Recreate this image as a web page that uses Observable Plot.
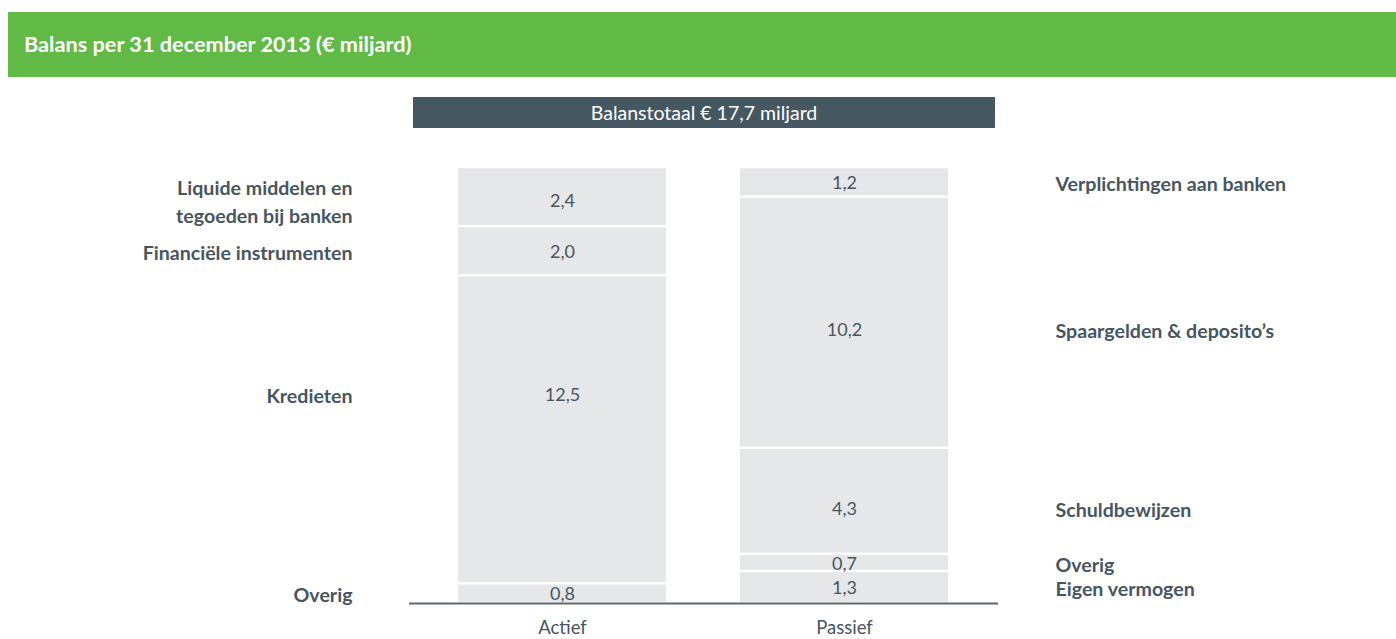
<!DOCTYPE html>
<html>
<head>
<meta charset="utf-8">
<script src="https://cdn.jsdelivr.net/npm/d3@7"></script>
<script src="https://cdn.jsdelivr.net/npm/@observablehq/plot@0.6"></script>
<style>
  html, body { margin: 0; padding: 0; background: #fff; }
  body { width: 1396px; height: 639px; position: relative; overflow: hidden; font-family: Lato, "Open Sans", sans-serif; }
  #header { position: absolute; left: 8px; top: 12px; width: 1388px; height: 65px; background: #62ba46; }
  #header span { position: absolute; left: 16px; top: 0; line-height: 65px; color: #fff; font-weight: 700; font-size: 21.7px; }
  #banner { position: absolute; left: 413px; top: 97px; width: 582px; height: 31px; background: #455761; color: #fff; font-size: 19.5px; text-align: center; line-height: 31px; }
  #chart { position: absolute; left: 0; top: 130px; }
</style>
</head>
<body>
<div id="header"><span id="title"></span></div>
<div id="banner"></div>
<div id="chart"></div>
<script>
// ---- data ----
const title = "Balans per 31 december 2013 (€ miljard)";
const sides = ["Actief", "Passief"];
const actiefLabels = ["Liquide middelen en\ntegoeden bij banken", "Financiële instrumenten", "Kredieten", "Overig"];
const actiefValues = [2.4, 2.0, 12.5, 0.8];
const passiefLabels = ["Verplichtingen aan banken", "Spaargelden & deposito’s", "Schuldbewijzen", "Overig", "Eigen vermogen"];
const passiefValues = [1.2, 10.2, 4.3, 0.7, 1.3];
const balanceTotal = 17.7;

// ---- layout (pixel nudges for label placement, not data) ----
const nudge = {
  "Liquide middelen en\ntegoeden bij banken": 3,
  "Kredieten": -36,
  "Spaargelden & deposito’s": 7,
  "Schuldbewijzen": 7
};

const fmt = v => v.toFixed(1).replace(".", ",");

document.getElementById("title").textContent = title;
document.getElementById("banner").textContent = "Balanstotaal € " + fmt(balanceTotal) + " miljard";

function stackSide(side, labels, values) {
  let top = balanceTotal;
  return labels.map((label, i) => {
    const y2 = top, y1 = top - values[i];
    top = y1;
    return {side, label, value: values[i], y1, y2, mid: (y1 + y2) / 2, nudge: nudge[label] || 0};
  });
}
const segs = [
  ...stackSide(sides[0], actiefLabels, actiefValues),
  ...stackSide(sides[1], passiefLabels, passiefValues)
];

const textColor = "#46565f";
const nudges = [...new Set(segs.map(d => d.nudge))];

const marks = [
  Plot.barY(segs, {x: "side", y1: "y1", y2: "y2", fill: "#e6e7e9", insetTop: 1.2, insetBottom: 1.2}),
  Plot.ruleY([0], {stroke: "#5b6b73", strokeWidth: 2})
];
for (const n of nudges) {
  const sub = segs.filter(d => d.nudge === n);
  marks.push(Plot.text(sub, {x: "side", y: "mid", text: d => fmt(d.value), dy: n + 1, fill: textColor, fontSize: 18, fontWeight: 400}));
  marks.push(Plot.text(sub.filter(d => d.side === sides[0]), {x: "side", y: "mid", text: "label", dy: n, dx: -210, textAnchor: "end", fill: textColor, fontSize: 19.6, fontWeight: 700, lineHeight: 1.4}));
  marks.push(Plot.text(sub.filter(d => d.side === sides[1]), {x: "side", y: "mid", text: "label", dy: n, dx: 211, textAnchor: "start", fill: textColor, fontSize: 19.6, fontWeight: 700, lineHeight: 1.4}));
}

const chart = Plot.plot({
  width: 1396,
  height: 509,
  marginLeft: 409,
  marginRight: 398,
  marginTop: 37,
  marginBottom: 36,
  style: {fontFamily: "Lato, 'Open Sans', sans-serif", fontSize: "18.5px", color: textColor, background: "transparent"},
  x: {domain: sides, paddingInner: 0.262, paddingOuter: 0.175, label: null, tickSize: 0, tickPadding: 17},
  y: {domain: [0, balanceTotal], axis: null},
  marks
});
document.getElementById("chart").appendChild(chart);
</script>
</body>
</html>
